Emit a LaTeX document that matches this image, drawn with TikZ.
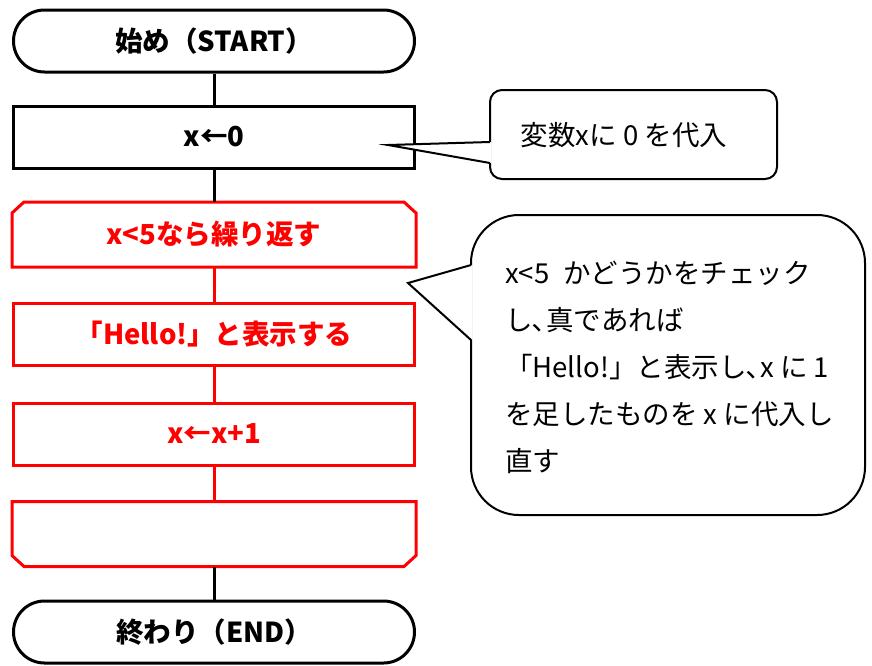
\documentclass[tikz,border=0pt]{standalone}
\usepackage{fontspec}
\setmainfont{Noto Sans CJK JP}
\usetikzlibrary{positioning}

\tikzset{
  box/.style={draw, line width=3pt, minimum width=401pt, minimum height=62pt, inner sep=0pt, font=\bfseries\fontsize{27.5}{32}\selectfont},
  term/.style={box, rounded corners=31pt},
  redbox/.style={box, draw=red, text=red},
  loopbox/.style={box, draw=none, text=red},
  flow/.style={line width=3pt},
  balloon/.style={draw, line width=2pt, fill=white, inner sep=0pt},
  note/.style={font=\fontsize{27.5}{47}\selectfont, inner sep=0pt, align=left},
}

\begin{document}
\begin{tikzpicture}[x=1pt, y=-1pt]
   \useasboundingbox (0,0) rectangle (872,665);
   % flowchart
   \node[term] (start) at (214,41) {始め（START）};
   \node[box] (init) at (214,137) {x←0};
   \node[loopbox] (loopA) at (214,234.5) {x<5なら繰り返す};
   \node[redbox] (hello) at (214,334.5) {「Hello!」と表示する};
   \node[redbox] (incr) at (214,434) {x←x+1};
   \node[loopbox] (loopB) at (214,534) {};
   \node[term] (end) at (214,632) {終わり（END）};
   % loop limits, cut corners
   \draw[flow, red] ([xshift=12pt]loopA.north west) -- ([xshift=-12pt]loopA.north east)
      -- ([yshift=-11pt]loopA.north east) -- (loopA.south east) -- (loopA.south west)
      -- ([yshift=-11pt]loopA.north west) -- cycle;
   \draw[flow, red] (loopB.north west) -- (loopB.north east)
      -- ([yshift=11pt]loopB.south east) -- ([xshift=-12pt]loopB.south east)
      -- ([xshift=12pt]loopB.south west) -- ([yshift=11pt]loopB.south west) -- cycle;
   % connectors
   \draw[flow] (start) -- (init);
   \draw[flow] (init) -- (loopA);
   \draw[flow, red] (loopA) -- (hello);
   \draw[flow, red] (hello) -- (incr);
   \draw[flow, red] (incr) -- (loopB);
   \draw[flow] (loopB) -- (end);

   % balloon 1
   \node[balloon, rounded corners=12pt, minimum width=287pt, minimum height=89pt] (bal1) at (633.5,134.5) {};
   \node[note] (note1) at (624,135) {変数xに 0 を代入};
   \coordinate (tip1) at (388,145);
   \coordinate (b1a) at (490,142);
   \coordinate (b1b) at (490,163);
   \fill[white] ([xshift=1.5pt]b1a) -- (tip1) -- ([xshift=1.5pt]b1b) -- cycle;
   \draw[line width=2pt] (b1a) -- (tip1) -- (b1b);

   % balloon 2
   \node[balloon, rounded corners=48pt, minimum width=394pt, minimum height=300pt] (bal2) at (668,365) {};
   \node[note, anchor=west] (note2) at (505,367) {x<5\hspace{14pt}かどうかをチェック\\し､真であれば\\「Hello!」と表示し､x に 1\\を足したものを x に代入し\\直す};
   \coordinate (tip2) at (408,283);
   \coordinate (b2a) at (471,265);
   \coordinate (b2b) at (471,340);
   \fill[white] ([xshift=1.5pt]b2a) -- (tip2) -- ([xshift=1.5pt]b2b) -- cycle;
   \draw[line width=2pt] (b2a) -- (tip2) -- (b2b);
\end{tikzpicture}
\end{document}
